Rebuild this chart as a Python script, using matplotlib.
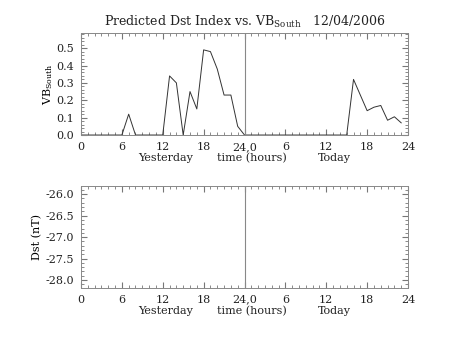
import numpy as np
import matplotlib
matplotlib.use("Agg")
import matplotlib.pyplot as plt
from matplotlib.ticker import MultipleLocator

# Hourly VB_South values: yesterday (0-24 h) then today (0-23 h)
yesterday_hours = list(range(0, 25))
yesterday_vb = [0, 0, 0, 0, 0, 0, 0, 0.12, 0, 0, 0, 0, 0, 0.34, 0.30, 0,
                0.25, 0.15, 0.49, 0.48, 0.38, 0.23, 0.23, 0.05, 0.0]
today_hours = list(range(0, 24))
today_vb = [0, 0, 0, 0, 0, 0, 0, 0, 0, 0, 0, 0, 0, 0, 0, 0,
            0.32, 0.23, 0.14, 0.16, 0.17, 0.085, 0.105, 0.07]

tick_pos = [0, 6, 12, 18, 24, 30, 36, 42, 48]
tick_labels = ["0", "6", "12", "18", "24,0", "6", "12", "18", "24"]

plt.rcParams["font.family"] = ["DejaVu Serif"]
plt.rcParams["font.size"] = 8
plt.rcParams["text.color"] = "#222222"

fig = plt.figure(figsize=(4.53, 3.40), dpi=100)
ax1 = fig.add_axes([0.1788, 0.6029, 0.7219, 0.300])
ax2 = fig.add_axes([0.1788, 0.1538, 0.7219, 0.299])

x = list(yesterday_hours) + [24 + h for h in today_hours]
y = list(yesterday_vb) + list(today_vb)
ax1.plot(x, y, color="#333333", linewidth=0.7)
ax1.set_ylim(0, 0.587)
ax1.yaxis.set_major_locator(MultipleLocator(0.1))
ax1.yaxis.set_minor_locator(MultipleLocator(0.02))
ax1.yaxis.set_major_formatter(lambda v, p: "%.1f" % v)
ax1.set_ylabel(r"VB$_{\mathregular{South}}$", fontsize=8, labelpad=1)
ax1.set_title(r"Predicted Dst Index vs. VB$_{\mathregular{South}}$   12/04/2006",
              fontsize=9, pad=5)

ax2.set_ylim(-28.18, -25.81)
ax2.yaxis.set_major_locator(MultipleLocator(0.5))
ax2.yaxis.set_minor_locator(MultipleLocator(0.1))
ax2.yaxis.set_major_formatter(lambda v, p: "%.1f" % v)
ax2.set_ylabel("Dst (nT)", fontsize=8, labelpad=2)

for ax in (ax1, ax2):
    ax.set_xlim(0, 48)
    ax.set_xticks(tick_pos)
    ax.set_xticklabels(tick_labels)
    ax.xaxis.set_minor_locator(MultipleLocator(1))
    ax.axvline(24, color="#888888", linewidth=0.8)
    ax.tick_params(which="both", direction="in", top=True, right=True,
                   color="#777777", labelsize=8, labelcolor="#222222")
    ax.tick_params(which="major", length=4, pad=5)
    ax.tick_params(which="minor", length=2)
    for s in ax.spines.values():
        s.set_color("#888888")
        s.set_linewidth(0.7)
    ax.text(12.4, -0.23, "Yesterday", transform=ax.get_xaxis_transform(),
            ha="center", va="center", fontsize=8)
    ax.text(25.1, -0.23, "time (hours)", transform=ax.get_xaxis_transform(),
            ha="center", va="center", fontsize=8)
    ax.text(37.2, -0.23, "Today", transform=ax.get_xaxis_transform(),
            ha="center", va="center", fontsize=8)

fig.savefig("out.png", dpi=100)
